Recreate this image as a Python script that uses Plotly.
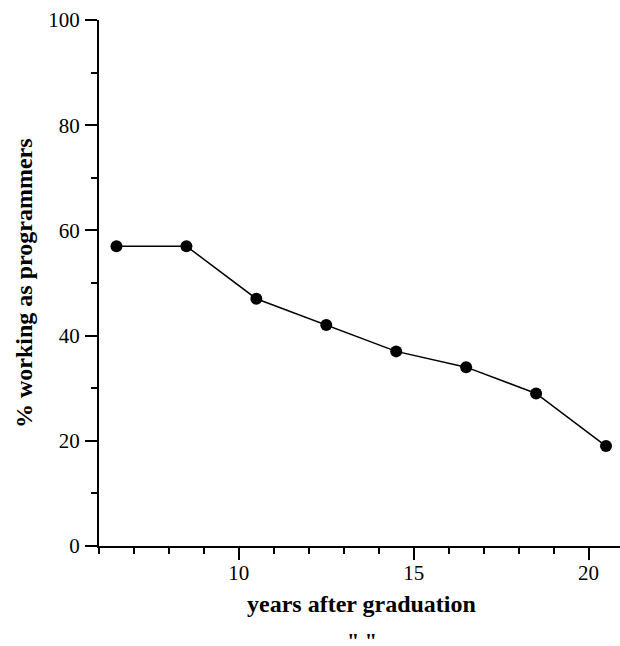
import plotly.graph_objects as go

years = [6.5, 8.5, 10.5, 12.5, 14.5, 16.5, 18.5, 20.5]
pct_programmers = [57, 57, 47, 42, 37, 34, 29, 19]

x_title = "years after graduation"
y_title = "% working as programmers"
caption = '" "'

FONT = "Liberation Serif, Times New Roman, serif"

fig = go.Figure()
fig.add_trace(go.Scatter(
    x=years, y=pct_programmers, mode="lines+markers",
    line=dict(color="black", width=1.5),
    marker=dict(color="black", size=12),
    showlegend=False, cliponaxis=False,
))

axis_common = dict(
    showline=True, linecolor="black", linewidth=2,
    ticks="outside", tickcolor="black", tickwidth=2, ticklen=12,
    showgrid=False, zeroline=False,
    tickfont=dict(family=FONT, size=21, color="black"),
)

fig.update_xaxes(range=[6, 20.9], dtick=5, tick0=0, ticklabelstandoff=-5,
                 minor=dict(ticks="outside", ticklen=6, dtick=1, tick0=0,
                            tickcolor="black", tickwidth=2, showgrid=False),
                 **axis_common)
fig.update_yaxes(range=[0, 100], dtick=20, tick0=0, ticklabelstandoff=1,
                 minor=dict(ticks="outside", ticklen=6, dtick=10, tick0=0,
                            tickcolor="black", tickwidth=2, showgrid=False),
                 **axis_common)

fig.add_annotation(text="<b>" + x_title + "</b>", xref="paper", yref="paper",
                   x=0.5, y=0, yanchor="middle", yshift=-58, xshift=2, showarrow=False,
                   font=dict(family=FONT, size=24, color="black"))
fig.add_annotation(text="<b>" + caption + "</b>", xref="paper", yref="paper",
                   x=0.5, y=0, yanchor="middle", yshift=-94, xshift=2, showarrow=False,
                   font=dict(family=FONT, size=22, color="black"))
fig.add_annotation(text="<b>" + y_title + "</b>", xref="paper", yref="paper",
                   x=0, y=0.5, xanchor="center", yanchor="middle", xshift=-75,
                   textangle=-90, showarrow=False,
                   font=dict(family=FONT, size=24, color="black"))

fig.update_layout(
    width=620, height=646,
    margin=dict(l=99, r=0, t=20, b=100),
    paper_bgcolor="white", plot_bgcolor="white",
    font=dict(family=FONT, color="black"),
)

fig.write_html("out.html", config={"displayModeBar": False},
               post_script="document.body.style.margin='0';document.body.style.overflow='hidden';")
